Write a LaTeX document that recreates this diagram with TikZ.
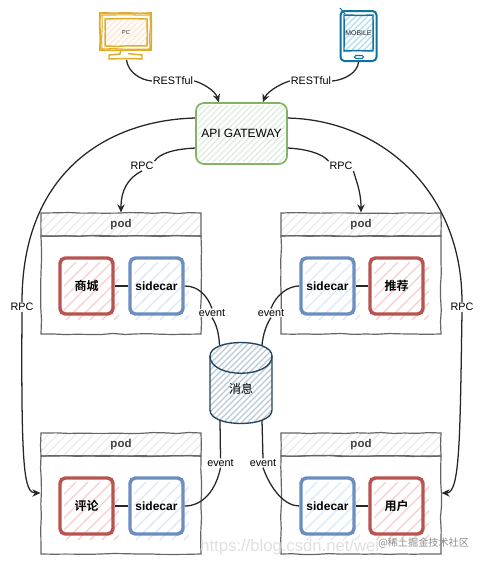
\documentclass[tikz,border=0pt]{standalone}
\usepackage{fontspec}
\setmainfont{Liberation Sans}
\newfontfamily\cjkb[BoldFont={Noto Sans CJK SC Bold}]{Noto Sans CJK SC}
\newfontfamily\cjkr{Noto Sans CJK SC}
\usetikzlibrary{arrows.meta,decorations.pathmorphing,shapes.geometric}
\definecolor{gold}{HTML}{E0AC2B}\definecolor{goldf}{HTML}{FFE6CC}
\definecolor{teal}{HTML}{10739E}\definecolor{tealf}{HTML}{B1DDF0}
\definecolor{grn}{HTML}{82B366}\definecolor{grnf}{HTML}{DCEBDB}
\definecolor{rd}{HTML}{B85450}\definecolor{rdf}{HTML}{F8CECC}
\definecolor{blu}{HTML}{6C8EBF}\definecolor{bluf}{HTML}{DAE8FC}
\definecolor{cyl}{HTML}{23445D}\definecolor{cylf}{HTML}{BAC8D3}
\definecolor{podc}{HTML}{666666}\definecolor{podf}{HTML}{EBEBEB}
\newcommand{\hatchrect}[6]{%
 \begin{scope}
 \clip (#1,#2) rectangle (#3,#4);
 \pgfmathsetmacro{\hh}{#4-#2}
 \pgfmathsetmacro{\ww}{#3-#1}
 \pgfmathsetmacro{\gapb}{#6}
 \pgfmathsetmacro{\stopv}{\ww+\hh}
 \pgfmathsetmacro{\nn}{int(\stopv/\gapb)}
 \foreach \k in {0,...,\nn}{
  \pgfmathsetmacro{\sx}{#1-\hh+\k*\gapb}
  \pgfmathsetmacro{\ex}{#1+\k*\gapb}
  \draw[#5,line width=.85pt] (\sx,#4) -- (\ex,#2);
 }
 \end{scope}}
\tikzset{
 x=0.75pt,y=-0.75pt,
 sk/.style={draw=#1,decorate,decoration={random steps,segment length=9pt,amplitude=.4pt}},
 inbox/.style={draw=#1,line width=2.6pt,rounded corners=4pt,minimum width=53*.75pt,minimum height=56*.75pt,inner sep=0pt,font=\bfseries\fontsize{9pt}{10pt}\selectfont},
 redbox/.style={inbox=rd},
 blubox/.style={inbox=blu},
 conn/.style={draw=black!85,line width=.95pt},
 tip/.style={-{Stealth[open,length=6pt,width=5.5pt]}},
 lab/.style={fill=white,inner sep=.6pt,font=\fontsize{8.1pt}{9pt}\selectfont},
 podh/.style={sk=podc,line width=.9pt,minimum width=160*.75pt,minimum height=23*.75pt,inner sep=0pt,font=\bfseries\fontsize{8.6pt}{10pt}\selectfont,text=black!75},
 podb/.style={sk=podc,line width=.9pt,minimum width=160*.75pt,minimum height=98*.75pt,inner sep=0pt},
}
\begin{document}
\begin{tikzpicture}
\path[use as bounding box,fill=white] (0,0) rectangle (483,564);
% hatching
\hatchrect{105}{19}{147}{46}{goldf}{6}
\hatchrect{344}{16}{374}{52}{tealf}{6}
\hatchrect{198}{105}{285}{162}{grnf}{6}
\foreach \xa/\ya in {41/213,281/213,41/433,281/433}{
 \hatchrect{\xa}{\ya}{\xa+160}{\ya+23}{podf}{9}
}
\hatchrect{64}{262}{119}{320}{rdf}{12}
\hatchrect{134}{262}{189}{320}{bluf}{12}
\hatchrect{305}{262}{360}{320}{bluf}{12}
\hatchrect{374}{262}{429}{320}{rdf}{12}
\hatchrect{64}{482}{119}{540}{rdf}{12}
\hatchrect{134}{482}{189}{540}{bluf}{12}
\hatchrect{305}{482}{360}{540}{bluf}{12}
\hatchrect{374}{482}{429}{540}{rdf}{12}
\begin{scope}
\clip (210,356) .. controls (210,338) and (272,338) .. (272,356) -- (272,410) .. controls (272,428) and (210,428) .. (210,410) -- cycle;
\hatchrect{210}{340}{272}{430}{cylf}{6}
\end{scope}
% PC
\node[sk=gold,line width=1.3pt,minimum width=51*.75pt,minimum height=37*.75pt,inner sep=0pt] (pcframe) at (125.5,31.5) {};
\draw[sk=gold,line width=.8pt] (102,15) rectangle (150,49);
\node[sk=gold,line width=1.1pt,minimum width=42*.75pt,minimum height=27*.75pt,inner sep=0pt,font=\fontsize{4.4pt}{5pt}\selectfont,text=black!80] (pc) at (126,32.5) {PC};
\draw[sk=gold,line width=1.1pt] (121,50) -- (120,54) -- (109,55) -- (109,59) -- (142,59) -- (142,55) -- (132,54) -- (131,50);
% Mobile
\node[draw=teal,line width=1.5pt,rounded corners=3pt,minimum width=36*.75pt,minimum height=50*.75pt,inner sep=0pt] (phone) at (358.5,36) {};
\node[sk=teal,line width=1.1pt,minimum width=29*.75pt,minimum height=36*.75pt,inner sep=0pt,font=\fontsize{5.2pt}{6pt}\selectfont,text=black!85] (mob) at (358.5,33) {MOBILE};
\node[draw=teal,line width=.8pt,rounded corners=1pt,minimum width=9*.75pt,minimum height=3*.75pt,inner sep=0pt] (btn) at (359,57) {};
\draw[teal,line width=.8pt] (340,8) -- (345,14);
% gateway
\node[draw=grn,line width=1.3pt,rounded corners=6pt,minimum width=91*.75pt,minimum height=61*.75pt,inner sep=0pt,font=\fontsize{9pt}{10pt}\selectfont] (gw) at (241.5,133.5) {API GATEWAY};
% pods
\node[podh] (p1h) at (121,224.5) {pod};
\node[podb] (p1b) at (121,285) {};
\node[podh] (p2h) at (361,224.5) {pod};
\node[podb] (p2b) at (361,285) {};
\node[podh] (p3h) at (121,444.5) {pod};
\node[podb] (p3b) at (121,505) {};
\node[podh] (p4h) at (361,444.5) {pod};
\node[podb] (p4b) at (361,505) {};
% inner boxes
\node[redbox] (r1) at (86.5,286) {\cjkb\bfseries 商城};
\node[blubox] (s1) at (156.5,286) {sidecar};
\node[blubox] (s2) at (327.5,286) {sidecar};
\node[redbox] (r2) at (396.5,286) {\cjkb\bfseries 推荐};
\node[redbox] (r3) at (86.5,506) {\cjkb\bfseries 评论};
\node[blubox] (s3) at (156.5,506) {sidecar};
\node[blubox] (s4) at (327.5,506) {sidecar};
\node[redbox] (r4) at (396.5,506) {\cjkb\bfseries 用户};
\draw[conn,line width=1.2pt] (r1) -- (s1);
\draw[conn,line width=1.2pt] (s2) -- (r2);
\draw[conn,line width=1.2pt] (r3) -- (s3);
\draw[conn,line width=1.2pt] (s4) -- (r4);
% cylinder
\node[minimum width=62*.75pt,minimum height=80*.75pt,inner sep=0pt,font=\cjkr\fontsize{9pt}{10pt}\selectfont] (mq) at (241,389) {消息};
\draw[cyl,line width=1pt] (210,356) .. controls (210,338) and (272,338) .. (272,356) -- (272,410) .. controls (272,428) and (210,428) .. (210,410) -- cycle;
\draw[cyl,line width=1pt] (210,356) .. controls (210,379) and (272,379) .. (272,356);
% labels
\node[lab] (l1) at (173,81) {RESTful};
\node[lab] (l2) at (311,81) {RESTful};
\node[lab] (l3) at (142,166) {RPC};
\node[lab] (l4) at (341,166) {RPC};
\node[lab] (l5) at (22,307) {RPC};
\node[lab] (l6) at (462,307) {RPC};
\node[lab] (e1) at (212,313) {event};
\node[lab] (e2) at (271,313) {event};
\node[lab] (e3) at (220.5,463) {event};
\node[lab] (e4) at (263,463) {event};
% connectors
\draw[conn] (pcframe.south) ++(1,9) .. controls (128,72) and (140,80) .. (l1.west);
\draw[conn,tip] (l1.east) .. controls (200,82) and (215,90) .. ([xshift=-17pt]gw.north);
\draw[conn] (phone.south) .. controls (358,72) and (345,80) .. (l2.east);
\draw[conn,tip] (l2.west) .. controls (285,82) and (268,90) .. ([xshift=16pt]gw.north);
\draw[conn] ([yshift=11.6pt]gw.west) .. controls (110,120) and (22,170) .. (l5.north);
\draw[conn,tip] (l5.south) .. controls (21,470) and (24,493) .. (p3b.west |- 0,493);
\draw[conn] ([yshift=11.6pt]gw.east) .. controls (380,120) and (462,190) .. (l6.north);
\draw[conn,tip] (l6.south) .. controls (460,440) and (460,493) .. (p4b.east |- 0,493);
\draw[conn] ([yshift=-10.9pt]gw.west) .. controls (175,149) and (160,153) .. (l3.north east);
\draw[conn,tip] (l3.south) .. controls (128,178) and (121,190) .. (p1h.north);
\draw[conn] ([yshift=-10.9pt]gw.east) .. controls (305,149) and (322,153) .. (l4.north west);
\draw[conn,tip] (l4.south east) .. controls (355,178) and (361,190) .. (p2h.north);
\draw[conn] (s1.east) .. controls (198,286) and (207,295) .. (e1.north);
\draw[conn] (e1.south) .. controls (217,325) and (219,335) .. (219.5,345);
\draw[conn] (s2.west) .. controls (288,286) and (276,295) .. (e2.north);
\draw[conn] (e2.south) .. controls (266,325) and (263,335) .. (262,345);
\draw[conn] (220,420) -- (e3.north);
\draw[conn] (e3.south) .. controls (216,490) and (203,506) .. (s3.east);
\draw[conn] (262,420) -- (e4.north);
\draw[conn] (e4.south) .. controls (271,490) and (285,506) .. (s4.west);
% watermark
\node[text=black!12,font=\fontsize{12.5pt}{13pt}\selectfont,anchor=west,inner sep=0pt] (wm) at (200,547) {https://blog.csdn.net/wei};
\node[text=black!45,font=\cjkr\fontsize{7.6pt}{9pt}\selectfont,anchor=west,inner sep=0pt] (wm2) at (378,543) {@稀土掘金技术社区};
\end{tikzpicture}
\end{document}
